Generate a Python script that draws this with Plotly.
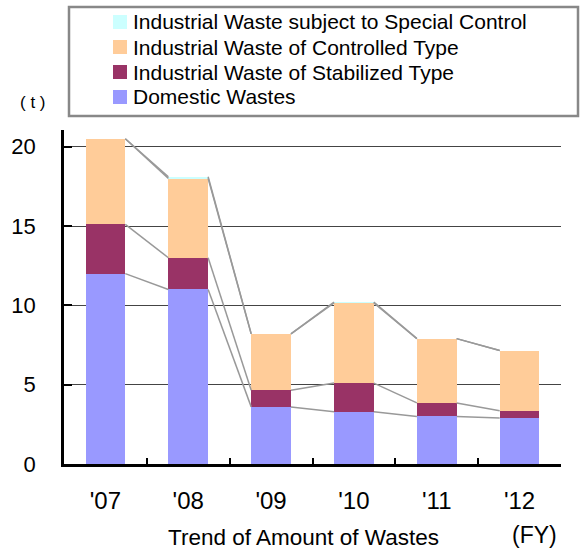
import plotly.graph_objects as go

years = ["'07", "'08", "'09", "'10", "'11", "'12"]
domestic = [12.0, 11.0, 3.6, 3.3, 3.0, 2.9]
stabilized = [3.1, 2.0, 1.05, 1.8, 0.85, 0.45]
controlled = [5.4, 5.0, 3.55, 5.05, 4.05, 3.8]
special = [0.0, 0.1, 0.0, 0.05, 0.0, 0.0]

series = [
    ("Domestic Wastes", domestic, "#9999FF"),
    ("Industrial Waste of Stabilized Type", stabilized, "#993366"),
    ("Industrial Waste of Controlled Type", controlled, "#FFCC99"),
    ("Industrial Waste subject to Special Control", special, "#CCFFFF"),
]

FONT = "Liberation Sans, Arial, sans-serif"
BAR_W = 0.48
W, H = 581, 550
L, R, T, B = 64, 20, 130, 86
PW, PH = W - L - R, H - T - B


def px(x):
    return (x - L) / PW


def py(y):
    return 1 + (T - y) / PH


fig = go.Figure()
for name, vals, col in series:
    fig.add_trace(go.Bar(x=years, y=vals, name=name, marker=dict(color=col, line=dict(width=0)),
                         width=BAR_W, xaxis="x", yaxis="y", showlegend=False))

# series lines connecting cumulative tops
cum = [0.0] * len(years)
for name, vals, col in series:
    cum = [c + v for c, v in zip(cum, vals)]
    for i in range(len(years) - 1):
        fig.add_trace(go.Scatter(
            x=[i + BAR_W / 2, i + 1 - BAR_W / 2], y=[cum[i], cum[i + 1]],
            mode="lines", line=dict(color="#999999", width=1.5),
            showlegend=False, hoverinfo="skip", xaxis="x2", yaxis="y"))

shapes = [dict(type="rect", xref="paper", yref="paper", x0=px(69), x1=px(578), y0=py(116), y1=py(7),
               line=dict(color="#888888", width=2.5), fillcolor="rgba(0,0,0,0)", layer="below")]
annotations = []
row_y = [22, 47, 72, 97]
for (name, vals, col), ry in zip(reversed(series), row_y):
    shapes.append(dict(type="rect", xref="paper", yref="paper", x0=px(113), x1=px(127),
                       y0=py(ry + 7), y1=py(ry - 7), line=dict(width=0), fillcolor=col))
    annotations.append(dict(text=name, x=px(131), y=py(ry), xref="paper", yref="paper",
                            xanchor="left", yanchor="middle", showarrow=False, font=dict(size=21)))

annotations += [
    dict(text="( t )", x=px(33), y=py(102), xref="paper", yref="paper", showarrow=False,
         xanchor="center", yanchor="middle", font=dict(size=17)),
    dict(text="Trend of Amount of Wastes", x=px(303.5), y=py(537), xref="paper", yref="paper",
         showarrow=False, font=dict(size=22.5), xanchor="center", yanchor="middle"),
    dict(text="(FY)", x=px(534.5), y=py(535), xref="paper", yref="paper",
         showarrow=False, font=dict(size=23), xanchor="center", yanchor="middle"),
]

fig.update_layout(
    width=W, height=H, autosize=False,
    margin=dict(l=L, r=R, t=T, b=B, autoexpand=False),
    paper_bgcolor="white", plot_bgcolor="white",
    barmode="stack", showlegend=False,
    font=dict(family=FONT, color="black", size=20),
    xaxis=dict(type="category", tickson="boundaries", ticks="inside", ticklen=6, tickwidth=2,
               tickcolor="black", showline=True, linecolor="black", linewidth=2.5,
               showgrid=False, tickfont=dict(size=24), ticklabelstandoff=13,
               range=[-0.5, 5.5], automargin=False),
    xaxis2=dict(overlaying="x", range=[-0.5, 5.5], visible=False, showgrid=False),
    yaxis=dict(range=[0, 21.05], tickvals=[0, 5, 10, 15, 20], ticks="inside", ticklen=8, tickwidth=2,
               tickcolor="black", showline=True, linecolor="black", linewidth=2.5,
               showgrid=True, gridcolor="#444444", gridwidth=1, zeroline=False,
               tickfont=dict(size=22), ticklabelstandoff=21, automargin=False),
    shapes=shapes,
    annotations=annotations,
)

fig.write_html("out.html", config={"displayModeBar": False},
               post_script="document.body.style.margin='0';document.body.style.overflow='hidden';")
